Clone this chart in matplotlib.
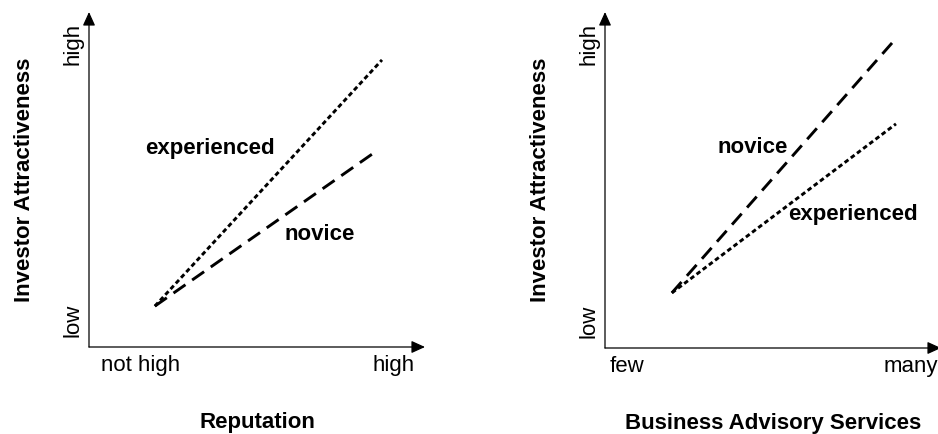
import matplotlib
matplotlib.use("Agg")
import matplotlib.pyplot as plt

plt.rcParams['font.family'] = ['Liberation Sans', 'DejaVu Sans']

# ---- data (conceptual units, axes run 0..10) ----
left_start = (1.96, 1.22)
left_exp_end = (8.72, 8.57)
left_nov_end = (8.60, 5.88)

right_start = (1.99, 1.64)
right_nov_end = (8.57, 9.11)
right_exp_end = (8.66, 6.67)

left_xticklabels = ["not high", "high"]
right_xticklabels = ["few", "many"]
ytick_labels = ["low", "high"]
left_xlabel = "Reputation"
right_xlabel = "Business Advisory Services"
ylabel = "Investor Attractiveness"

fig = plt.figure(figsize=(9.38, 4.34), dpi=100)

W, H = 938, 434
def axes_at(x0, y0, w, h):
    return fig.add_axes([x0 / W, 1 - y0 / H, w / W, h / H])

axL = axes_at(89, 347, 336, 335)
axR = axes_at(605, 348, 336, 336)

EXP_DASH = (1.6, 1.05)
NOV_DASH = (5.0, 2.8)
LW = 2.1
FS = 16

def setup(ax, xticks, xlab, xpos):
    ax.set_xlim(0, 10)
    ax.set_ylim(0, 10)
    for s in ax.spines.values():
        s.set_visible(False)
    ax.set_xticks(xpos)
    ax.set_xticklabels(xticks, fontsize=FS)
    ax.set_yticks([0.8, 9.05])
    ax.set_yticklabels(ytick_labels, fontsize=FS, rotation=90, va='center')
    ax.tick_params(length=0, pad=4)
    ax.tick_params(axis='x', pad=6)
    ax.set_xlabel(xlab, fontsize=FS, fontweight='bold', labelpad=26)
    ax.set_ylabel(ylabel, fontsize=FS, fontweight='bold', labelpad=20)
    style = '-|>,head_length=0.55,head_width=0.25'
    for xy in [(0, 1), (1, 0)]:
        ax.annotate('', xy=xy, xytext=(0, 0), xycoords='axes fraction',
                    arrowprops=dict(arrowstyle=style, lw=0.9, color='black',
                                    mutation_scale=15, shrinkA=0, shrinkB=0),
                    annotation_clip=False)

def seg(ax, a, b, dash):
    ax.plot([a[0], b[0]], [a[1], b[1]], color='black', lw=LW,
            linestyle=(0, dash), dash_capstyle='butt')

setup(axL, left_xticklabels, left_xlabel, [1.52, 9.05])
seg(axL, left_start, left_exp_end, EXP_DASH)
seg(axL, left_start, left_nov_end, NOV_DASH)
axL.text(3.6, 5.94, "experienced", fontsize=FS, fontweight='bold', ha='center', va='center')
axL.text(6.88, 3.37, "novice", fontsize=FS, fontweight='bold', ha='center', va='center')

setup(axR, right_xticklabels, right_xlabel, [0.66, 9.1])
seg(axR, right_start, right_nov_end, NOV_DASH)
seg(axR, right_start, right_exp_end, EXP_DASH)
axR.text(4.40, 5.98, "novice", fontsize=FS, fontweight='bold', ha='center', va='center')
axR.text(7.38, 3.96, "experienced", fontsize=FS, fontweight='bold', ha='center', va='center')

fig.savefig("out.png", dpi=100)
